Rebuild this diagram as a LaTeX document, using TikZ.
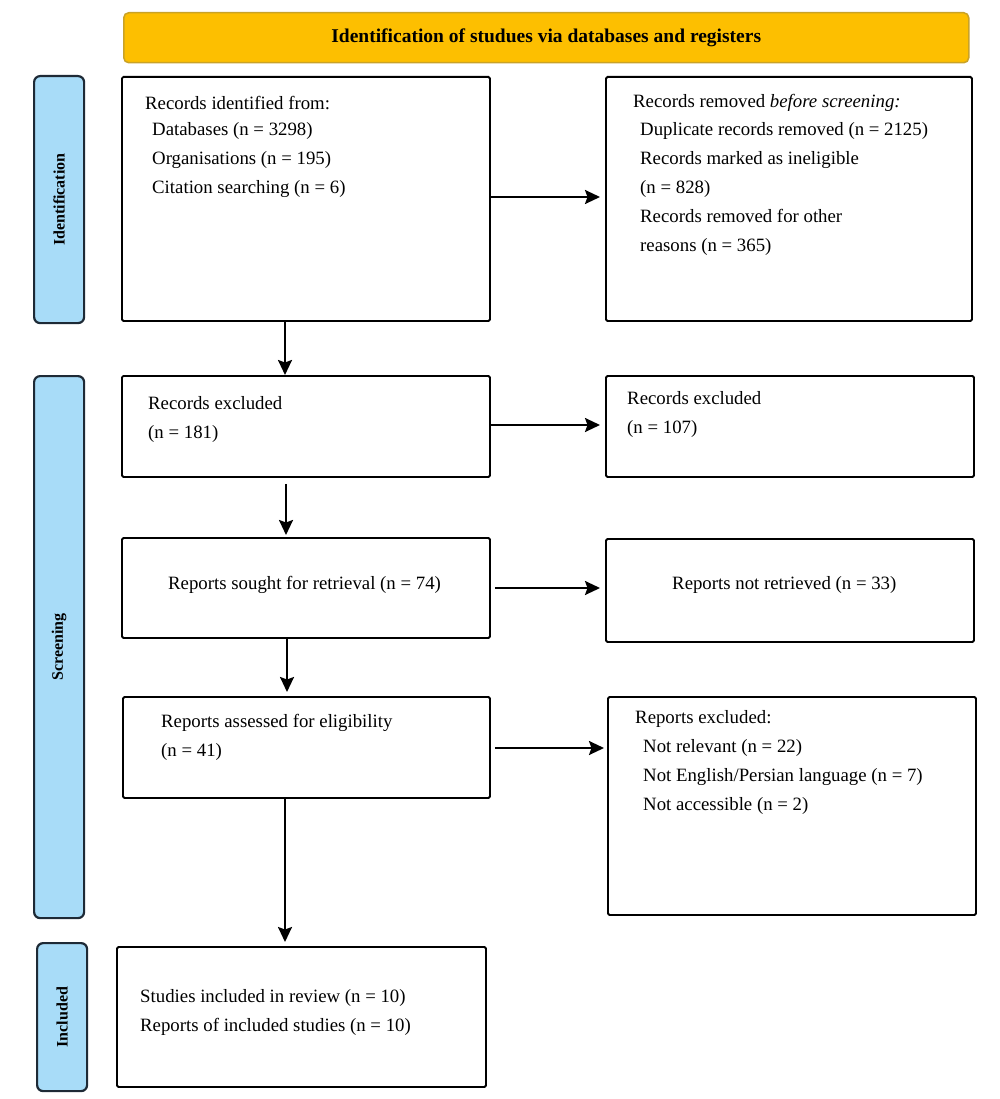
\documentclass[tikz,border=0pt]{standalone}
\usepackage{fontspec}
\setmainfont{Liberation Serif}
\usetikzlibrary{arrows.meta}
\definecolor{banner}{HTML}{FDBF00}
\definecolor{bannerline}{HTML}{C9A227}
\definecolor{side}{HTML}{A8DCF8}
\definecolor{sideline}{HTML}{1E2A36}
\tikzset{
  box/.style={draw=black, line width=1.9pt, rounded corners=1.5pt, anchor=north west, inner sep=0pt},
  sidebox/.style={draw=sideline, fill=side, line width=2.2pt, rounded corners=6pt, anchor=north west, inner sep=0pt},
  sidetext/.style={rotate=90, font=\fontsize{16}{18}\selectfont\bfseries},
  txt/.style={anchor=west, inner sep=0pt, font=\fontsize{18.8}{29}\selectfont, align=left},
  arr/.style={line width=2.2pt, -{Stealth[length=15pt, width=14pt, inset=2.5pt]}}
}
\begin{document}
\begin{tikzpicture}[x=1pt, y=-1pt]
\useasboundingbox (0,0) rectangle (1000,1099);
% banner
\node[draw=bannerline, fill=banner, line width=1.5pt, rounded corners=5pt, anchor=north west,
  minimum width=845pt, minimum height=50pt, inner sep=0pt] (ban) at (123,12) {};
\node[font=\fontsize{19.5}{21}\selectfont\bfseries] (bant) at (ban.center) {Identification of studues via databases and registers};
% side labels
\node[sidebox, minimum width=50pt, minimum height=247pt] (sid) at (33,75) {};
\node[sidetext] (sidt) at (sid.center) {Identification};
\node[sidebox, minimum width=50pt, minimum height=542pt] (sscr) at (33,375) {};
\node[sidetext] (sscrt) at (sscr.center) {Screening};
\node[sidebox, minimum width=50pt, minimum height=148pt] (sinc) at (36,942) {};
\node[sidetext] (sinct) at (sinc.center) {Included};
% boxes
\node[box, minimum width=368pt, minimum height=244pt] (b1) at (121,76) {};
\node[box, minimum width=366pt, minimum height=244pt] (b2) at (605,76) {};
\node[box, minimum width=368pt, minimum height=101pt] (b3) at (121,375) {};
\node[box, minimum width=368pt, minimum height=101pt] (b4) at (605,375) {};
\node[box, minimum width=368pt, minimum height=100pt] (b5) at (121,537) {};
\node[box, minimum width=368pt, minimum height=103pt] (b6) at (605,538) {};
\node[box, minimum width=367pt, minimum height=101pt] (b7) at (122,696) {};
\node[box, minimum width=368pt, minimum height=218pt] (b8) at (607,696) {};
\node[box, minimum width=369pt, minimum height=140pt] (b9) at (116,946) {};
% texts
\node[txt] (t1a) at (145,103) {Records identified from:};
\node[txt] (t1b) at (152,160) {Databases (n = 3298)\\Organisations (n = 195)\\Citation searching (n = 6)};
\node[txt] (t2a) at (633,103) {Records removed \textit{before screening:}};
\node[txt] (t2b) at (640,189) {Duplicate records removed (n = 2125)\\Records marked as ineligible\\(n = 828)\\Records removed for other\\reasons (n = 365)};
\node[txt] (t3) at (148,419.5) {Records excluded\\(n = 181)};
\node[txt] (t4) at (627,414) {Records excluded\\(n = 107)};
\node[txt] (t5) at (168,585) {Reports sought for retrieval (n = 74)};
\node[txt] (t6) at (672,585) {Reports not retrieved (n = 33)};
\node[txt] (t7) at (161,737.5) {Reports assessed for eligibility\\(n = 41)};
\node[txt] (t8a) at (635,719) {Reports excluded:};
\node[txt] (t8b) at (643,777) {Not relevant (n = 22)\\Not English/Persian language (n = 7)\\Not accessible (n = 2)};
\node[txt] (t9) at (140,1012) {Studies included in review (n = 10)\\Reports of included studies (n = 10)};
% connectors
\coordinate (c1) at (285,0);
\coordinate (c2) at (286,0);
\coordinate (c3) at (287,0);
\draw[arr] (b1.east |- 0,197) -- ([xshift=-5pt]b2.west |- 0,197);
\draw[arr] (b3.east |- 0,425) -- ([xshift=-5pt]b4.west |- 0,425);
\draw[arr] ([xshift=4pt]b5.east |- 0,588) -- ([xshift=-5pt]b6.west |- 0,588);
\draw[arr] ([xshift=4pt]b7.east |- 0,748) -- ([xshift=-3pt]b8.west |- 0,748);
\draw[arr] (b1.south -| c1) -- (b3.north -| c1);
\draw[arr] ([yshift=-6pt]b3.south -| c2) -- ([yshift=2pt]b5.north -| c2);
\draw[arr] (b5.south -| c3) -- ([yshift=4pt]b7.north -| c3);
\draw[arr] (b7.south -| c1) -- ([yshift=4pt]b9.north -| c1);
\end{tikzpicture}
\end{document}
